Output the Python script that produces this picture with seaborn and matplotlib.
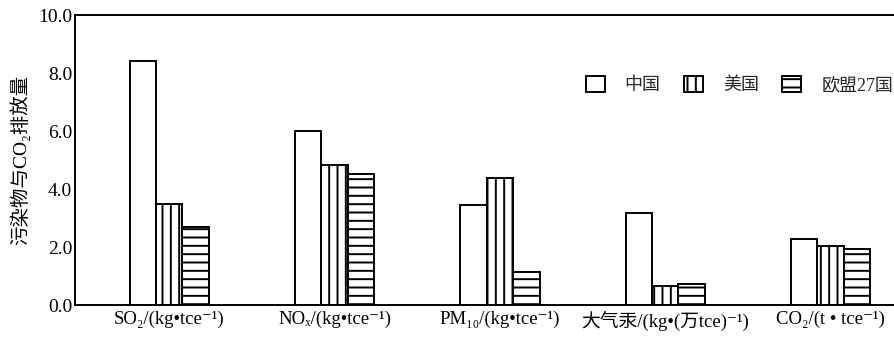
import matplotlib
matplotlib.use("Agg")
import matplotlib.pyplot as plt
import matplotlib.patches as mpatches
import seaborn as sns
import pandas as pd

categories = ["SO₂/(kg•tce⁻¹)", "NOₓ/(kg•tce⁻¹)", "PM₁₀/(kg•tce⁻¹)",
              "大气汞/(kg•(万tce)⁻¹)", "CO₂/(t • tce⁻¹)"]
series = ["中国", "美国", "欧盟27国"]
china = [8.40, 6.00, 3.45, 3.18, 2.27]
usa = [3.47, 4.83, 4.38, 0.66, 2.05]
eu27 = [2.70, 4.52, 1.14, 0.71, 1.92]
yticks = [0, 2, 4, 6, 8, 10]
ylabel = "污染物与CO₂排放量"

sns.set_theme(style="white")
fam = ["Liberation Serif", "DejaVu Serif", "Noto Sans CJK SC"]
plt.rcParams["font.family"] = fam
plt.rcParams["hatch.linewidth"] = 1.4
plt.rcParams["hatch.color"] = "black"

df = pd.DataFrame({
    "cat": categories * 3,
    "val": china + usa + eu27,
    "country": [series[0]] * 5 + [series[1]] * 5 + [series[2]] * 5,
})

fig = plt.figure(figsize=(8.95, 3.37), dpi=100)
ax = fig.add_axes([75 / 895, 1 - 305 / 337, 1 - 75 / 895, (305 - 15) / 337])

sns.barplot(data=df, x="cat", y="val", hue="country", order=categories,
            hue_order=series, palette=["white"] * 3, width=0.48,
            edgecolor="black", linewidth=1.4, saturation=1, ax=ax, legend=False)

hatches = ["", "||", "--"]
for cont, h in zip(ax.containers, hatches):
    for p in cont:
        p.set_hatch(h)
        p.set_edgecolor("black")
        p.set_facecolor("white")

ax.set_xlim(-0.57, 4.39)
ax.set_ylim(0, 10)
ax.set_yticks(yticks)
ax.set_yticklabels([f"{v:.1f}" for v in yticks])
ax.tick_params(axis="both", length=0, colors="black")
ax.tick_params(axis="y", pad=2, labelsize=14)
ax.tick_params(axis="x", pad=4, labelsize=13.5)
ax.set_xlabel("")
ax.set_ylabel(ylabel, fontsize=14, color="black", labelpad=6)

for s in ["left", "bottom", "top"]:
    ax.spines[s].set_visible(True)
    ax.spines[s].set_color("black")
    ax.spines[s].set_linewidth(1.4)
ax.spines["right"].set_visible(False)

handles = [mpatches.Patch(facecolor="white", edgecolor="black", linewidth=1.4, hatch=h)
           for h in hatches]
ax.legend(handles, series, ncol=3, frameon=False, loc="center left",
          bbox_to_anchor=(0.623, 0.759), fontsize=13, handlelength=1.05,
          handleheight=1.05, columnspacing=1.3, handletextpad=1.1,
          borderaxespad=0, borderpad=0)

fig.savefig("out.png", dpi=100)
